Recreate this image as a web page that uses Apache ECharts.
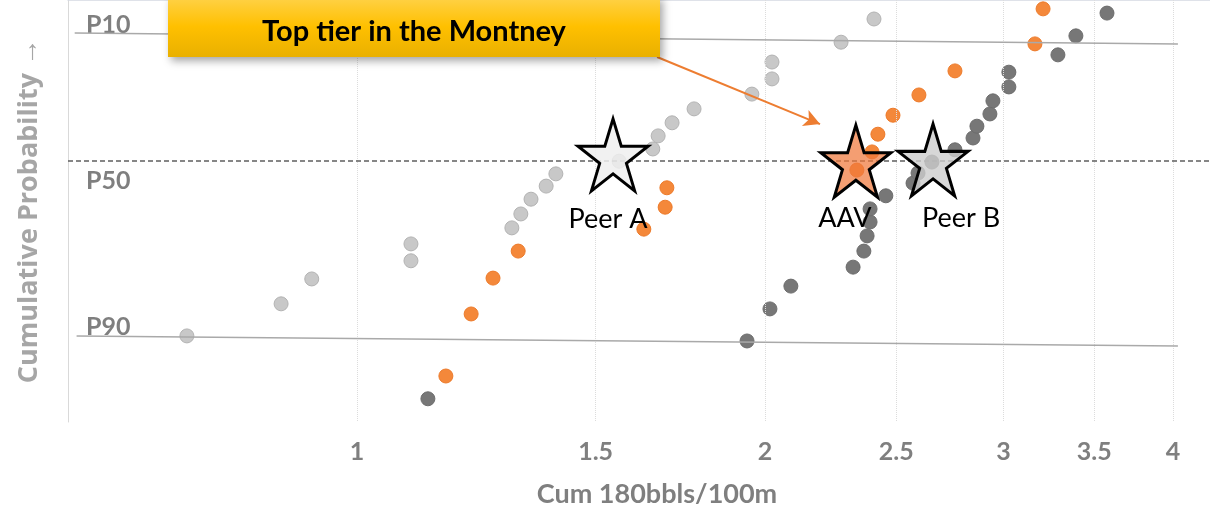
<!DOCTYPE html>
<html>
<head>
<meta charset="utf-8">
<script src="https://cdn.jsdelivr.net/npm/echarts@6/dist/echarts.min.js"></script>
<style>
  html, body { margin: 0; padding: 0; background: #fff; }
  #chart { width: 1210px; height: 508px; }
</style>
</head>
<body>
<div id="chart"></div>
<script>
// x: Cum 180bbls/100m (log axis), y: cumulative probability position (0 top .. 100 bottom)
const xTicks = [1, 1.5, 2, 2.5, 3, 3.5, 4];

const peerAWells = [
  [0.749, 79.6], [0.879, 72.0], [0.926, 66.1], [1.096, 61.8], [1.096, 57.8],
  [1.301, 54.0], [1.321, 50.7], [1.344, 47.2], [1.379, 44.1], [1.402, 41.2],
  [1.561, 38.2], [1.653, 35.3], [1.668, 32.2], [1.708, 29.1], [1.773, 25.8],
  [1.956, 22.3], [2.024, 18.7], [2.024, 14.7], [2.276, 10.0], [2.407, 4.5]
];
const aavWells = [
  [1.163, 89.1], [1.214, 74.4], [1.260, 65.9], [1.315, 59.5], [1.628, 54.3],
  [1.688, 49.1], [1.693, 44.5], [2.338, 40.3], [2.399, 36.0], [2.423, 31.8],
  [2.486, 27.3], [2.598, 22.5], [2.762, 16.8], [3.164, 10.4], [3.208, 2.1]
];
const peerBWells = [
  [1.128, 94.5], [1.940, 80.8], [2.017, 73.2], [2.090, 67.8], [2.323, 63.3],
  [2.366, 59.5], [2.379, 55.9], [2.391, 52.6], [2.391, 49.5], [2.456, 46.4],
  [2.572, 43.4], [2.594, 41.0], [2.656, 38.4], [2.762, 35.5], [2.848, 32.7],
  [2.867, 29.9], [2.931, 27.0], [2.946, 23.9], [3.027, 20.6], [3.027, 17.1],
  [3.290, 13.0], [3.392, 8.5], [3.576, 3.1]
];
const medianNames = ['Peer A', 'AAV', 'Peer B'];
const medianPoints = [[1.545, 36.7], [2.334, 38.2], [2.661, 37.9]];

const p10Line = [[0.619, 7.8], [4.034, 10.4]];
const p50Line = [[0.612, 38.0], [4.26, 38.0]];
const p90Line = [[0.621, 79.6], [4.034, 82.0]];
const calloutArrow = [[1.665, 13.5], [2.196, 29.4]];

const STAR = 'path://M50,0 L61.2,34.5 L97.6,34.5 L68.2,55.9 L79.4,90.5 L50,69.1 L20.6,90.5 L31.8,55.9 L2.4,34.5 L38.8,34.5 Z';
const starFills = ['rgba(238,238,238,0.85)', 'rgba(240,120,60,0.72)', 'rgba(205,205,205,0.8)'];
const labelOffsets = [[-5, 64], [-11, 57], [28, 58]];

const grey = '#7f7f7f';
const chart = echarts.init(document.getElementById('chart'));

const wellSeries = (name, data, fill, border) => ({
  name,
  type: 'scatter',
  data,
  symbolSize: 14,
  z: 3,
  itemStyle: { color: fill, borderColor: border, borderWidth: 1, opacity: 1 }
});

chart.setOption({
  animation: false,
  grid: { left: 68, right: 0, top: 0, bottom: 86, outerBoundsMode: 'none', containLabel: false },
  xAxis: {
    type: 'log',
    min: 0.612,
    max: 4.26,
    name: 'Cum 180bbls/100m',
    nameLocation: 'middle',
    nameGap: 59,
    nameTextStyle: { fontFamily: 'Lato', fontWeight: 'bold', fontSize: 27, color: grey, padding: [0, 0, 0, 36] },
    axisLine: { show: true, lineStyle: { color: '#d5d9e2', width: 1.5 } },
    axisTick: { show: false },
    splitLine: { show: false },
    axisLabel: {
      customValues: xTicks,
      margin: 17,
      fontFamily: 'Lato',
      fontWeight: 'bold',
      fontSize: 25,
      color: grey,
      formatter: v => String(v)
    }
  },
  yAxis: {
    type: 'value',
    min: 0,
    max: 100,
    inverse: true,
    name: 'Cumulative Probability \u2192',
    nameLocation: 'middle',
    nameRotate: 90,
    nameGap: 25,
    nameTextStyle: { fontFamily: 'Open Sans', fontWeight: 'bold', fontSize: 27, color: '#a6a6a6', align: 'center' },
    axisLine: { show: true, lineStyle: { color: '#d9d9d9', width: 1 } },
    axisTick: { show: false },
    axisLabel: { show: false },
    splitLine: { show: false }
  },
  graphic: [
    { type: 'text', left: 86, top: 12, style: { text: 'P10', fill: grey, font: 'bold 25px Lato' } },
    { type: 'text', left: 86, top: 168, style: { text: 'P50', fill: grey, font: 'bold 25px Lato' } },
    { type: 'text', left: 86, top: 314, style: { text: 'P90', fill: grey, font: 'bold 25px Lato' } },
    {
      type: 'rect',
      shape: { x: 168, y: -4, width: 492, height: 61 },
      z: 100,
      style: {
        fill: new echarts.graphic.LinearGradient(0, 0, 0, 1, [
          { offset: 0, color: '#ffd24a' },
          { offset: 0.5, color: '#ffc000' },
          { offset: 1, color: '#e9b000' }
        ]),
        shadowBlur: 8,
        shadowOffsetX: 3,
        shadowOffsetY: 4,
        shadowColor: 'rgba(0,0,0,0.35)'
      }
    },
    {
      type: 'text',
      x: 414,
      y: 32,
      z: 101,
      style: { text: 'Top tier in the Montney', fill: '#000', font: 'bold 29px Lato', align: 'center', verticalAlign: 'middle' }
    }
  ],
  series: [
    {
      name: 'guides',
      type: 'line',
      data: [],
      silent: true,
      z: 1,
      markLine: {
        silent: true,
        symbol: 'none',
        animation: false,
        label: { show: false },
        data: xTicks.map(v => ({ xAxis: v, lineStyle: { color: '#dcdcdc', type: 'dotted', width: 1 } }))
          .concat([
            [{ coord: p10Line[0] }, { coord: p10Line[1], lineStyle: { color: '#a9a9a9', type: 'solid', width: 1.5 } }],
            [{ coord: p90Line[0] }, { coord: p90Line[1], lineStyle: { color: '#a9a9a9', type: 'solid', width: 1.5 } }],
            [{ coord: p50Line[0] }, { coord: p50Line[1], lineStyle: { color: '#5f5f5f', type: [5, 3], width: 1.5 } }]
          ])
      }
    },
    wellSeries('Peer A wells', peerAWells, '#c8c8c8', '#b2b2b2'),
    wellSeries('AAV wells', aavWells, '#f4883a', '#ec7a2a'),
    wellSeries('Peer B wells', peerBWells, '#777777', '#6c6c6c'),
    {
      name: 'Median',
      type: 'scatter',
      z: 5,
      symbol: STAR,
      symbolSize: [70, 72],
      data: medianPoints.map((p, i) => ({
        value: p,
        itemStyle: { color: starFills[i] },
        label: { offset: labelOffsets[i] }
      })),
      itemStyle: { borderColor: '#000', borderWidth: 3, opacity: 1 },
      label: {
        show: true,
        position: 'inside',
        formatter: p => medianNames[p.dataIndex],
        fontFamily: 'Lato',
        fontSize: 27,
        color: '#000'
      },
      markLine: {
        silent: true,
        symbol: ['none', 'arrow'],
        symbolSize: [13, 16],
        label: { show: false },
        lineStyle: { color: '#ed7d31', width: 2, type: 'solid' },
        data: [[{ coord: calloutArrow[0] }, { coord: calloutArrow[1] }]]
      }
    }
  ]
});
window.addEventListener('resize', () => chart.resize());
</script>
</body>
</html>
